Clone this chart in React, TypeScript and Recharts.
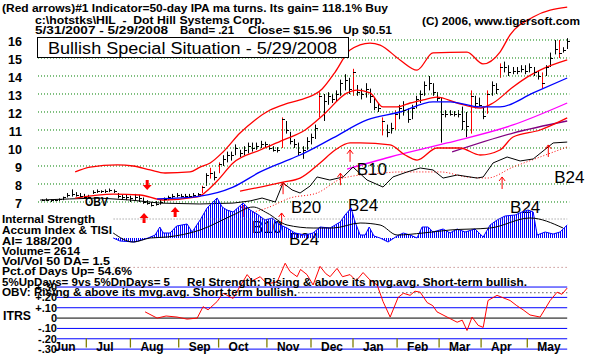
import React from 'react';
import { ComposedChart, Bar, Line, Area, Scatter, XAxis, YAxis, ReferenceLine } from 'recharts';

const FONT = "'Liberation Sans', Arial, Helvetica, sans-serif";

// x axis is the trading-day index: 0 = 5/31/2007 ... 251 = 5/29/2008
const X_DOMAIN: [number, number] = [-1, 252];
const RIGHT = 39.7;

// daily bars (every 2nd session): [day, low, high, close]
const priceBars: [number, number, number, number][] = [
  [1, 7.05, 7.15, 7.1], [3, 7.05, 7.2, 7.1], [5, 7.0, 7.15, 7.1], [7, 7.05, 7.15, 7.1], [9, 7.05, 7.2, 7.15],
  [11, 7.1, 7.3, 7.25], [13, 7.25, 7.5, 7.4], [15, 7.3, 7.7, 7.45], [17, 7.3, 7.55, 7.4], [19, 7.3, 7.5, 7.35],
  [21, 7.2, 7.45, 7.3], [23, 7.2, 7.4, 7.3], [25, 7.45, 7.65, 7.55], [27, 7.5, 7.7, 7.6], [29, 7.5, 7.65, 7.6],
  [31, 7.5, 7.7, 7.6], [33, 7.55, 7.75, 7.65], [35, 7.5, 7.7, 7.6], [37, 7.2, 7.5, 7.35], [39, 7.15, 7.4, 7.3],
  [41, 7.1, 7.4, 7.25], [43, 7.0, 7.35, 7.2], [45, 7.05, 7.45, 7.3], [47, 7.0, 7.4, 7.2], [49, 6.9, 7.25, 7.0],
  [51, 6.85, 7.1, 6.95], [53, 6.75, 7.0, 6.85], [55, 6.8, 7.05, 6.9], [57, 6.85, 7.15, 7.0], [59, 6.95, 7.25, 7.15],
  [61, 7.1, 7.35, 7.25], [63, 7.2, 7.45, 7.35], [65, 7.25, 7.5, 7.4], [67, 7.25, 7.45, 7.35], [69, 7.2, 7.45, 7.35],
  [71, 7.25, 7.45, 7.35], [73, 7.25, 7.5, 7.4], [75, 7.3, 7.5, 7.45], [77, 7.5, 7.9, 7.85], [79, 7.9, 8.6, 8.5],
  [81, 8.3, 8.9, 8.6], [83, 8.2, 8.7, 8.4], [85, 8.6, 9.2, 9.1], [87, 9.0, 9.6, 9.4], [89, 9.2, 9.8, 9.6],
  [91, 9.3, 9.8, 9.6], [93, 9.6, 10.2, 10.0], [95, 9.5, 9.9, 9.7], [97, 9.6, 10.1, 9.9], [99, 9.7, 10.3, 10.1],
  [101, 9.8, 10.3, 10.0], [103, 9.9, 10.3, 10.1], [105, 10.0, 10.4, 10.2], [107, 10.0, 10.35, 10.2], [109, 9.9, 10.2, 10.0],
  [111, 9.8, 10.1, 9.9], [113, 9.75, 10.05, 9.9], [115, 10.0, 11.7, 11.6], [117, 10.8, 11.5, 11.0], [119, 10.2, 10.9, 10.4],
  [121, 10.0, 10.5, 10.2], [123, 9.6, 10.3, 9.8], [125, 9.4, 10.1, 9.9], [127, 9.9, 10.6, 10.4], [129, 10.2, 10.8, 10.6],
  [131, 10.5, 11.3, 11.1], [133, 11.7, 13.1, 12.9], [135, 11.5, 13.0, 12.6], [137, 12.4, 13.1, 12.9], [139, 12.5, 13.0, 12.7],
  [141, 12.6, 13.2, 13.0], [143, 12.9, 13.8, 13.6], [145, 13.2, 14.1, 13.8], [147, 13.0, 13.9, 13.3], [149, 12.9, 14.4, 14.2],
  [151, 12.9, 13.5, 13.1], [153, 12.7, 13.3, 13.0], [155, 12.8, 13.6, 13.3], [157, 12.5, 13.3, 12.9], [159, 12.1, 12.8, 12.3],
  [161, 12.0, 12.5, 12.2], [163, 10.7, 11.7, 11.5], [165, 10.6, 11.3, 10.9], [167, 10.8, 11.4, 11.1], [169, 11.0, 12.1, 11.9],
  [171, 11.6, 12.4, 12.2], [173, 11.8, 12.6, 12.1], [175, 11.4, 12.2, 11.6], [177, 11.6, 12.4, 12.2], [179, 12.2, 12.9, 12.7],
  [181, 12.5, 13.2, 13.0], [183, 12.9, 13.7, 13.5], [185, 13.2, 14.0, 13.6], [187, 12.9, 13.6, 13.1], [189, 12.6, 13.1, 12.8],
  [191, 10.3, 12.8, 11.9], [193, 11.7, 12.1, 11.9], [195, 11.8, 12.1, 11.9], [197, 11.75, 12.05, 11.9], [199, 11.7, 12.1, 11.9],
  [201, 11.0, 12.3, 11.5], [203, 10.6, 12.0, 11.2], [205, 10.8, 13.2, 12.9], [207, 12.2, 12.9, 12.5], [209, 12.3, 12.8, 12.4],
  [211, 11.6, 12.3, 11.8], [213, 11.9, 13.2, 13.0], [215, 12.9, 13.7, 13.5], [217, 13.0, 13.6, 13.3], [219, 13.9, 14.7, 14.5],
  [221, 14.2, 14.8, 14.5], [223, 14.0, 14.6, 14.2], [225, 14.1, 14.5, 14.3], [227, 14.1, 14.5, 14.3], [229, 14.2, 14.6, 14.4],
  [231, 14.1, 14.6, 14.3], [233, 14.2, 14.7, 14.5], [235, 14.0, 14.5, 14.2], [237, 13.8, 14.3, 14.0], [239, 13.3, 14.2, 13.6],
  [241, 14.0, 14.6, 14.5], [243, 14.5, 15.3, 15.0], [245, 15.2, 16.0, 15.5], [247, 15.0, 16.0, 15.3], [249, 15.3, 15.6, 15.45],
  [251, 15.5, 16.1, 15.96],
];
// sessions with big up moves (drawn red)
const redBarDays = [77, 81, 85, 115, 133, 149, 163, 169, 205, 213, 219, 239, 247];

const upperBand = [
  [16.7, 8.67], [23.8, 8.94], [36.7, 9.06], [44.3, 9.0], [52.4, 8.78], [59.5, 8.61], [71.4, 8.67], [76.2, 8.94],
  [81, 9.17], [87.1, 9.78], [95.2, 10.83], [102.4, 11.56], [109.5, 12.11], [116.7, 12.44], [123.8, 12.67],
  [134.3, 13.28], [140.5, 14.22], [147.6, 15.44], [157.1, 15.83], [161.9, 15.72], [171.4, 14.89], [179.5, 14.33],
  [187.1, 15.28], [203.3, 15.33], [210.9, 14.67], [219, 15.33], [223.8, 16.28], [234.8, 17.28], [251, 17.83],
];
const midBand = [
  [16.7, 7.22], [34.8, 7.44], [47.6, 7.39], [58.6, 7.11], [74.8, 7.28], [84.3, 8.17], [91.9, 9.17], [104.8, 9.89],
  [115.7, 10.44], [126.2, 11.0], [134.8, 11.83], [146.2, 13.06], [150.9, 13.22], [157.1, 13.06], [163.3, 12.28],
  [170, 12.28], [176.2, 12.5], [182.4, 12.67], [189, 12.83], [198.6, 12.5], [209.5, 12.22], [215.7, 12.5],
  [225.2, 13.39], [231.9, 13.94], [238.1, 14.33], [251, 14.89],
];
const lowerBand = [
  [95.2, 7.6], [115.7, 8.11], [123.8, 8.33], [133.3, 9.17], [140.5, 9.89], [147.6, 10.28], [152.4, 10.28],
  [166.7, 10.17], [173.8, 9.61], [179.5, 9.33], [189, 10.0], [200, 10.0], [209.5, 9.61], [219, 9.89],
  [225.2, 10.61], [238.1, 11.0], [251, 11.67],
];
const ma50 = [
  [55.7, 7.17], [76.2, 7.33], [91.9, 7.83], [104.8, 8.67], [115.7, 9.22], [123.8, 9.61], [139.5, 10.56],
  [155.7, 11.56], [171.4, 12.0], [187.1, 12.56], [195.2, 12.56], [209.5, 12.28], [219, 12.28], [234.8, 13.06], [251, 13.89],
];
const ma200 = [[146.2, 8.83], [166.7, 9.5], [193.8, 10.28], [225.2, 11.28], [251, 12.5]];
const ma150 = [[196.2, 9.78], [225.2, 10.83], [251, 11.5]];
const obv = [
  [0, 7.11], [14, 7.17], [28, 7.22], [43, 7.11], [57, 6.94], [76, 6.89], [92, 6.94], [100, 7.06], [105.7, 7.22],
  [112, 7.0], [115.7, 8.06], [120, 7.67], [123.8, 7.5], [128.6, 7.89], [131.9, 8.39], [138, 8.22], [144.3, 8.39],
  [149, 8.94], [155.7, 8.22], [163.3, 7.83], [168, 8.39], [174.8, 8.67], [181, 8.89], [187.1, 8.78], [191.9, 8.33],
  [198.6, 8.5], [208.1, 8.33], [211, 8.39], [215.7, 9.17], [222.4, 9.5], [228.6, 9.28], [234.8, 9.39], [244.3, 10.28], [251, 10.33],
];
const obvMa = [
  [100, 6.39], [108.1, 6.67], [119, 7.22], [131.9, 7.5], [144.3, 8.33], [163.3, 8.61], [171.4, 8.67], [190.5, 8.67],
  [203.3, 8.39], [212.9, 8.33], [225.2, 8.94], [238.1, 9.5], [251, 10.06],
];

// accumulation index histogram and its moving average
const accum = [
  [34.8, 0.0], [38, -0.03], [45, -0.04], [51.4, 0.0], [54.8, 0.03], [57, 0.11], [58.6, 0.05], [61.9, 0.05], [65, 0.12],
  [70, 0.14], [72.4, 0.06], [76.2, 0.18], [79.5, 0.3], [84.3, 0.4], [86.7, 0.31], [89, 0.28], [91.9, 0.26], [96.7, 0.35],
  [100, 0.28], [103.3, 0.24], [107.1, 0.18], [110.5, 0.2], [114.3, 0.13], [117.6, 0.1], [121.4, 0.05], [126.2, 0.03],
  [130, 0.05], [133.3, 0.11], [138.1, 0.1], [142.9, 0.16], [145.2, 0.23], [148.1, 0.3], [150, 0.16], [152.4, 0.03],
  [154.8, 0.03], [156.7, 0.11], [159, 0.02], [161.9, 0.0], [165.7, -0.04], [170, 0.02], [172.9, 0.05], [176.2, 0.03],
  [179.5, 0.0], [181.9, 0.11], [184.8, 0.11], [187.1, 0.06], [191.9, 0.09], [195.2, 0.05], [198.6, 0.09], [202.4, 0.06],
  [207.1, 0.09], [211, 0.01], [214.3, 0.13], [217.6, 0.18], [221.4, 0.22], [226.2, 0.23], [229.5, 0.26], [232.4, 0.28],
  [234.8, 0.26], [236.7, 0.03], [240.5, 0.06], [244.3, 0.04], [247.6, 0.06], [251, 0.13],
];
const accumMa = [
  [34.8, 0.05], [44.3, -0.04], [52.4, 0.0], [60.5, 0.01], [76.2, 0.08], [91.9, 0.23], [101.4, 0.31], [108.1, 0.25],
  [117.6, 0.13], [130, 0.1], [139.5, 0.1], [152.4, 0.15], [161.9, 0.13], [170, 0.03], [182.4, 0.05], [195.2, 0.08],
  [214.3, 0.1], [233.3, 0.2], [249, 0.1],
];

// ITRS (relative strength)
const itrs = [
  [50, 0.06], [55.7, 0.0], [60, 0.02], [65.2, 0.01], [70, -0.01], [74.8, 0.0], [77.6, 0.11], [80, 0.08], [84.3, 0.16],
  [87.1, 0.24], [91.9, 0.19], [95, 0.3], [98.6, 0.42], [101, 0.36], [104.8, 0.4], [108, 0.33], [112.9, 0.35],
  [116.7, 0.53], [119, 0.45], [122.4, 0.4], [124, 0.47], [127.1, 0.42], [130, 0.32], [133.3, 0.5], [136, 0.43],
  [138.1, 0.4], [141.4, 0.48], [144, 0.4], [147.6, 0.42], [150.5, 0.36], [153.8, 0.44], [157, 0.37], [160.5, 0.32],
  [163.3, 0.16], [166.7, 0.01], [170.5, 0.2], [173, 0.24], [176.2, 0.22], [178.5, 0.26], [181, 0.25], [184.3, 0.15],
  [187, 0.12], [189, 0.06], [193.8, 0.01], [198.6, -0.04], [201, -0.02], [203.3, -0.12], [205.7, 0.01], [208.6, -0.07],
  [211, -0.09], [213.3, 0.17], [217.6, 0.22], [220, 0.2], [223.8, 0.17], [227, 0.12], [230, 0.08], [233.3, 0.03],
  [238.1, 0.01], [242.9, 0.17], [246.2, 0.25], [248.5, 0.23], [251, 0.29],
];
const itrsLevels = [0.3, 0.2, 0.1, 0, -0.1, -0.2, -0.3];

const priceTicks = [7, 8, 9, 10, 11, 12, 13, 14, 15, 16];
const monthNames = ['Jun', 'Jul', 'Aug', 'Sep', 'Oct', 'Nov', 'Dec', 'Jan', 'Feb', 'Mar', 'Apr', 'May'];
const monthStarts = [22, 43, 66, 85, 108, 129, 149, 170, 190, 210, 232];
const monthLabelDays = [2, 22, 43, 66, 85, 108, 129, 149, 170, 190, 210, 232];

// signal annotations
const thickUpArrows = [{ day: 49.5, p: 6.39 }, { day: 64.3, p: 6.72 }];
const thickDownArrows = [{ day: 51, p: 7.67 }];
const thinUpArrows = [
  { day: 96.7, p: 6.83 }, { day: 115, p: 6.39 }, { day: 115.7, p: 8.1 }, { day: 143, p: 8.6 },
  { day: 147.6, p: 9.9 }, { day: 220, p: 8.39 }, { day: 242, p: 10.17 },
];
const signalLabels = [
  { day: 108.1, p: 5.28, text: 'B10' }, { day: 126.7, p: 6.39, text: 'B20' }, { day: 125.7, p: 4.61, text: 'B24' },
  { day: 153.8, p: 6.5, text: 'B24' }, { day: 158, p: 8.5, text: 'B10' }, { day: 231, p: 6.39, text: 'B24' },
  { day: 252, p: 8.06, text: 'B24' },
];

const pts = (rows: number[][]) => rows.map(([day, v]) => ({ day, v }));
const priceRows = priceBars.map(([day, low, high, close]) => ({ day, low, high, close }));

const fmtItrs = (v: number) =>
  v === 0 ? '0' : (v > 0 ? '+' : '-') + '.' + String(Math.round(Math.abs(v) * 100)).padStart(2, '0');

function T({ x, y, len, size = 11.5, bold = true, children }: any) {
  return (
    <text x={x} y={y} fontSize={size} fontWeight={bold ? 'bold' : 'normal'} fontFamily={FONT}
      textLength={len} lengthAdjust="spacingAndGlyphs" fill="#000" style={{ whiteSpace: 'pre' }}>
      {children}
    </text>
  );
}

export default function App() {
  const priceTick = (props: any) => (
    <text x={props.x} y={props.y + 6} textAnchor="end" fontSize={12.5} fontWeight="bold" fontFamily={FONT} fill="#000">
      {props.payload.value}
    </text>
  );
  const itrsTick = (props: any) => (
    <text x={props.x + 19} y={props.y + 4} textAnchor="end" fontSize={11} fontWeight="bold" fontFamily={FONT} fill="#000">
      {fmtItrs(props.payload.value)}
    </text>
  );
  const monthTick = (props: any) => (
    <text x={props.x + 10} y={props.y - 3} fontSize={12} fontWeight="bold" fontFamily={FONT} fill="#000">
      {monthNames[monthLabelDays.indexOf(props.payload.value)]}
    </text>
  );
  const ohlcBar = (p: any) => {
    const cx = Math.round(p.x + p.width / 2) + 0.5;
    const red = redBarDays.includes(p.payload.day);
    return <line x1={cx} x2={cx} y1={p.y} y2={p.y + p.height} stroke={red ? '#ff0000' : '#000'} strokeWidth={1} />;
  };

  return (
    <div style={{ position: 'absolute', left: 0, top: 0, width: 609, height: 354, overflow: 'hidden', background: '#fff' }}>
      <svg width={0} height={0} style={{ position: 'absolute' }}>
        <defs>
          <pattern id="aiStripes" patternUnits="userSpaceOnUse" width={2} height={8}>
            <rect x={0} y={0} width={1} height={8} fill="#0000ff" />
          </pattern>
        </defs>
      </svg>

      {/* price panel */}
      <div style={{ position: 'absolute', left: 0, top: 0 }}>
        <ComposedChart width={609} height={252} data={priceRows} margin={{ top: 0, right: RIGHT, bottom: 0, left: 0 }}>
          <XAxis dataKey="day" type="number" domain={X_DOMAIN} hide />
          <YAxis type="number" domain={[4.2222, 18.2222]} ticks={priceTicks} interval={0} width={38} axisLine={false}
            tickLine={false} tickSize={0} tickMargin={16} tick={priceTick} />
          {priceTicks.map((p) => (
            <ReferenceLine key={p} y={p} stroke="#008000" strokeDasharray="1 2" />
          ))}
          <Line data={pts(ma200)} dataKey="v" type="monotone" stroke="#ff00ff" strokeWidth={1.3} dot={false} isAnimationActive={false} />
          <Line data={pts(ma150)} dataKey="v" type="monotone" stroke="#800080" strokeWidth={1.3} dot={false} isAnimationActive={false} />
          <Line data={pts(obvMa)} dataKey="v" type="monotone" stroke="#ff0000" strokeWidth={1} strokeDasharray="1 2" dot={false} isAnimationActive={false} />
          <Line data={pts(obv)} dataKey="v" type="linear" stroke="#000" strokeWidth={1} dot={false} isAnimationActive={false} />
          <Line data={pts(upperBand)} dataKey="v" type="monotone" stroke="#ff0000" strokeWidth={1.3} dot={false} isAnimationActive={false} />
          <Line data={pts(midBand)} dataKey="v" type="monotone" stroke="#ff0000" strokeWidth={1.3} dot={false} isAnimationActive={false} />
          <Line data={pts(lowerBand)} dataKey="v" type="monotone" stroke="#ff0000" strokeWidth={1.3} dot={false} isAnimationActive={false} />
          <Line data={pts(ma50)} dataKey="v" type="monotone" stroke="#0000ff" strokeWidth={1.3} dot={false} isAnimationActive={false} />
          <Bar dataKey={(d: any) => [d.low, d.high]} barSize={1} shape={ohlcBar} isAnimationActive={false} />
          <Scatter data={priceRows} dataKey="close" isAnimationActive={false}
            shape={(p: any) => <line x1={Math.round(p.cx)} x2={Math.round(p.cx) + 3} y1={Math.round(p.cy) + 0.5} y2={Math.round(p.cy) + 0.5} stroke="#000" strokeWidth={1} />} />
          <Scatter data={thickUpArrows} dataKey="p" isAnimationActive={false}
            shape={(p: any) => (
              <polygon fill="#ff0000" points={`${p.cx},${p.cy} ${p.cx - 4.5},${p.cy + 5} ${p.cx - 1.5},${p.cy + 5} ${p.cx - 1.5},${p.cy + 10} ${p.cx + 1.5},${p.cy + 10} ${p.cx + 1.5},${p.cy + 5} ${p.cx + 4.5},${p.cy + 5}`} />
            )} />
          <Scatter data={thickDownArrows} dataKey="p" isAnimationActive={false}
            shape={(p: any) => (
              <polygon fill="#ff0000" points={`${p.cx},${p.cy} ${p.cx - 4.5},${p.cy - 5} ${p.cx - 1.5},${p.cy - 5} ${p.cx - 1.5},${p.cy - 10} ${p.cx + 1.5},${p.cy - 10} ${p.cx + 1.5},${p.cy - 5} ${p.cx + 4.5},${p.cy - 5}`} />
            )} />
          <Scatter data={thinUpArrows} dataKey="p" isAnimationActive={false}
            shape={(p: any) => (
              <g stroke="#ff0000" strokeWidth={1} fill="none">
                <line x1={p.cx} x2={p.cx} y1={p.cy} y2={p.cy + 12} />
                <polyline points={`${p.cx - 3},${p.cy + 4} ${p.cx},${p.cy} ${p.cx + 3},${p.cy + 4}`} />
              </g>
            )} />
          <Scatter data={signalLabels} dataKey="p" isAnimationActive={false}
            shape={(p: any) => (
              <text x={p.cx} y={p.cy} textAnchor="middle" fontSize={17} fontFamily={FONT} fill="#000">{p.payload.text}</text>
            )} />
        </ComposedChart>
      </div>

      {/* accumulation index panel */}
      <div style={{ position: 'absolute', left: 0, top: 190 }}>
        <ComposedChart width={609} height={60} data={pts(accum)} margin={{ top: 0, right: RIGHT, bottom: 0, left: 38 }}>
          <XAxis dataKey="day" type="number" domain={X_DOMAIN} hide allowDataOverflow />
          <YAxis type="number" domain={[-0.12, 0.48]} hide allowDataOverflow />
          <ReferenceLine segment={[{ x: 35, y: 0.19 }, { x: 251, y: 0.19 }]} stroke="#808080" strokeDasharray="1 2" />
          <Area dataKey="v" type="linear" baseValue={0} stroke="#0000ff" strokeWidth={1} fill="url(#aiStripes)" fillOpacity={1} isAnimationActive={false} />
          <Line data={pts(accumMa)} dataKey="v" type="monotone" stroke="#000" strokeWidth={1} dot={false} isAnimationActive={false} />
        </ComposedChart>
      </div>

      {/* ITRS panel */}
      <div style={{ position: 'absolute', left: 0, top: 255.9 }}>
        <ComposedChart width={609} height={118.3} data={pts(itrs)} margin={{ top: 0, right: RIGHT, bottom: 0, left: 0 }}>
          <XAxis dataKey="day" type="number" domain={X_DOMAIN} ticks={monthLabelDays} axisLine={false} tickLine={false}
            tickSize={0} tickMargin={0} height={20} tick={monthTick} interval={0} allowDataOverflow />
          <YAxis type="number" domain={[-0.35, 0.6]} ticks={itrsLevels} width={38} axisLine={false} tickLine={false}
            tickSize={0} tickMargin={0} tick={itrsTick} interval={0} allowDataOverflow />
          <ReferenceLine segment={[{ x: 35, y: 0.49 }, { x: 251, y: 0.49 }]} stroke="#b06060" strokeDasharray="1 3" />
          <ReferenceLine segment={[{ x: 123, y: 0.245 }, { x: 251, y: 0.245 }]} stroke="#000" strokeDasharray="1 3" />
          {itrsLevels.map((v) => (
            <ReferenceLine key={v} segment={[{ x: 8, y: v }, { x: 251, y: v }]} stroke={v === 0 ? '#000' : '#0000ff'} strokeWidth={1} />
          ))}
          {monthStarts.map((d) => (
            <ReferenceLine key={d} segment={[{ x: d, y: -0.195 }, { x: d, y: -0.285 }]} stroke="#808000" strokeWidth={1.3} />
          ))}
          <Line dataKey="v" type="linear" stroke="#ff0000" strokeWidth={1} dot={false} isAnimationActive={false} />
        </ComposedChart>
      </div>

      {/* text overlay */}
      <svg width={609} height={354} style={{ position: 'absolute', left: 0, top: 0, pointerEvents: 'none' }}>
        <T x={2} y={11.5} len={386}>(Red arrows)#1 Indicator=50-day IPA ma turns. Its gain= 118.1% Buy</T>
        <T x={35} y={24} len={230}>c:\hotstks\HIL  -  Dot Hill Systems Corp.</T>
        <T x={35} y={33.5} len={133}>5/31/2007 - 5/29/2008</T>
        <T x={180} y={33.5} len={54}>Band= .21</T>
        <T x={248} y={33.5} len={84}>Close= $15.96</T>
        <T x={343} y={33.5} len={49}>Up $0.51</T>
        <T x={422} y={25} len={158}>(C) 2006, www.tigersoft.com</T>
        <rect x={37.5} y={37.5} width={311} height={20} fill="#fff" stroke="#000" strokeWidth={1} />
        <T x={48} y={53.5} len={289} size={16} bold={false}>Bullish Special Situation - 5/29/2008</T>
        <T x={85} y={206} len={23} size={13}>OBV</T>
        <T x={2} y={223} len={93}>Internal Strength</T>
        <T x={2} y={234} len={110}>Accum Index &amp; TISI</T>
        <T x={2} y={244.5} len={70}>AI= 188/200</T>
        <T x={2} y={254.5} len={78}>Volume= 2614</T>
        <T x={2} y={264.5} len={108}>Vol/Vol 50 DA= 1.5</T>
        <T x={2} y={275} len={130}>Pct.of Days Up= 54.6%</T>
        <T x={2} y={285.5} len={168}>5%UpDays= 9vs 5%DnDays= 5</T>
        <T x={187} y={285.5} len={340}>Rel Strength: Rising &amp; above its mvg.avg. Short-term bullish.</T>
        <T x={2} y={295.5} len={295}>OBV: Rising &amp; above its mvg.avg. Short-term bullish.</T>
        <T x={3} y={320} len={28} size={13}>ITRS</T>
      </svg>
    </div>
  );
}
